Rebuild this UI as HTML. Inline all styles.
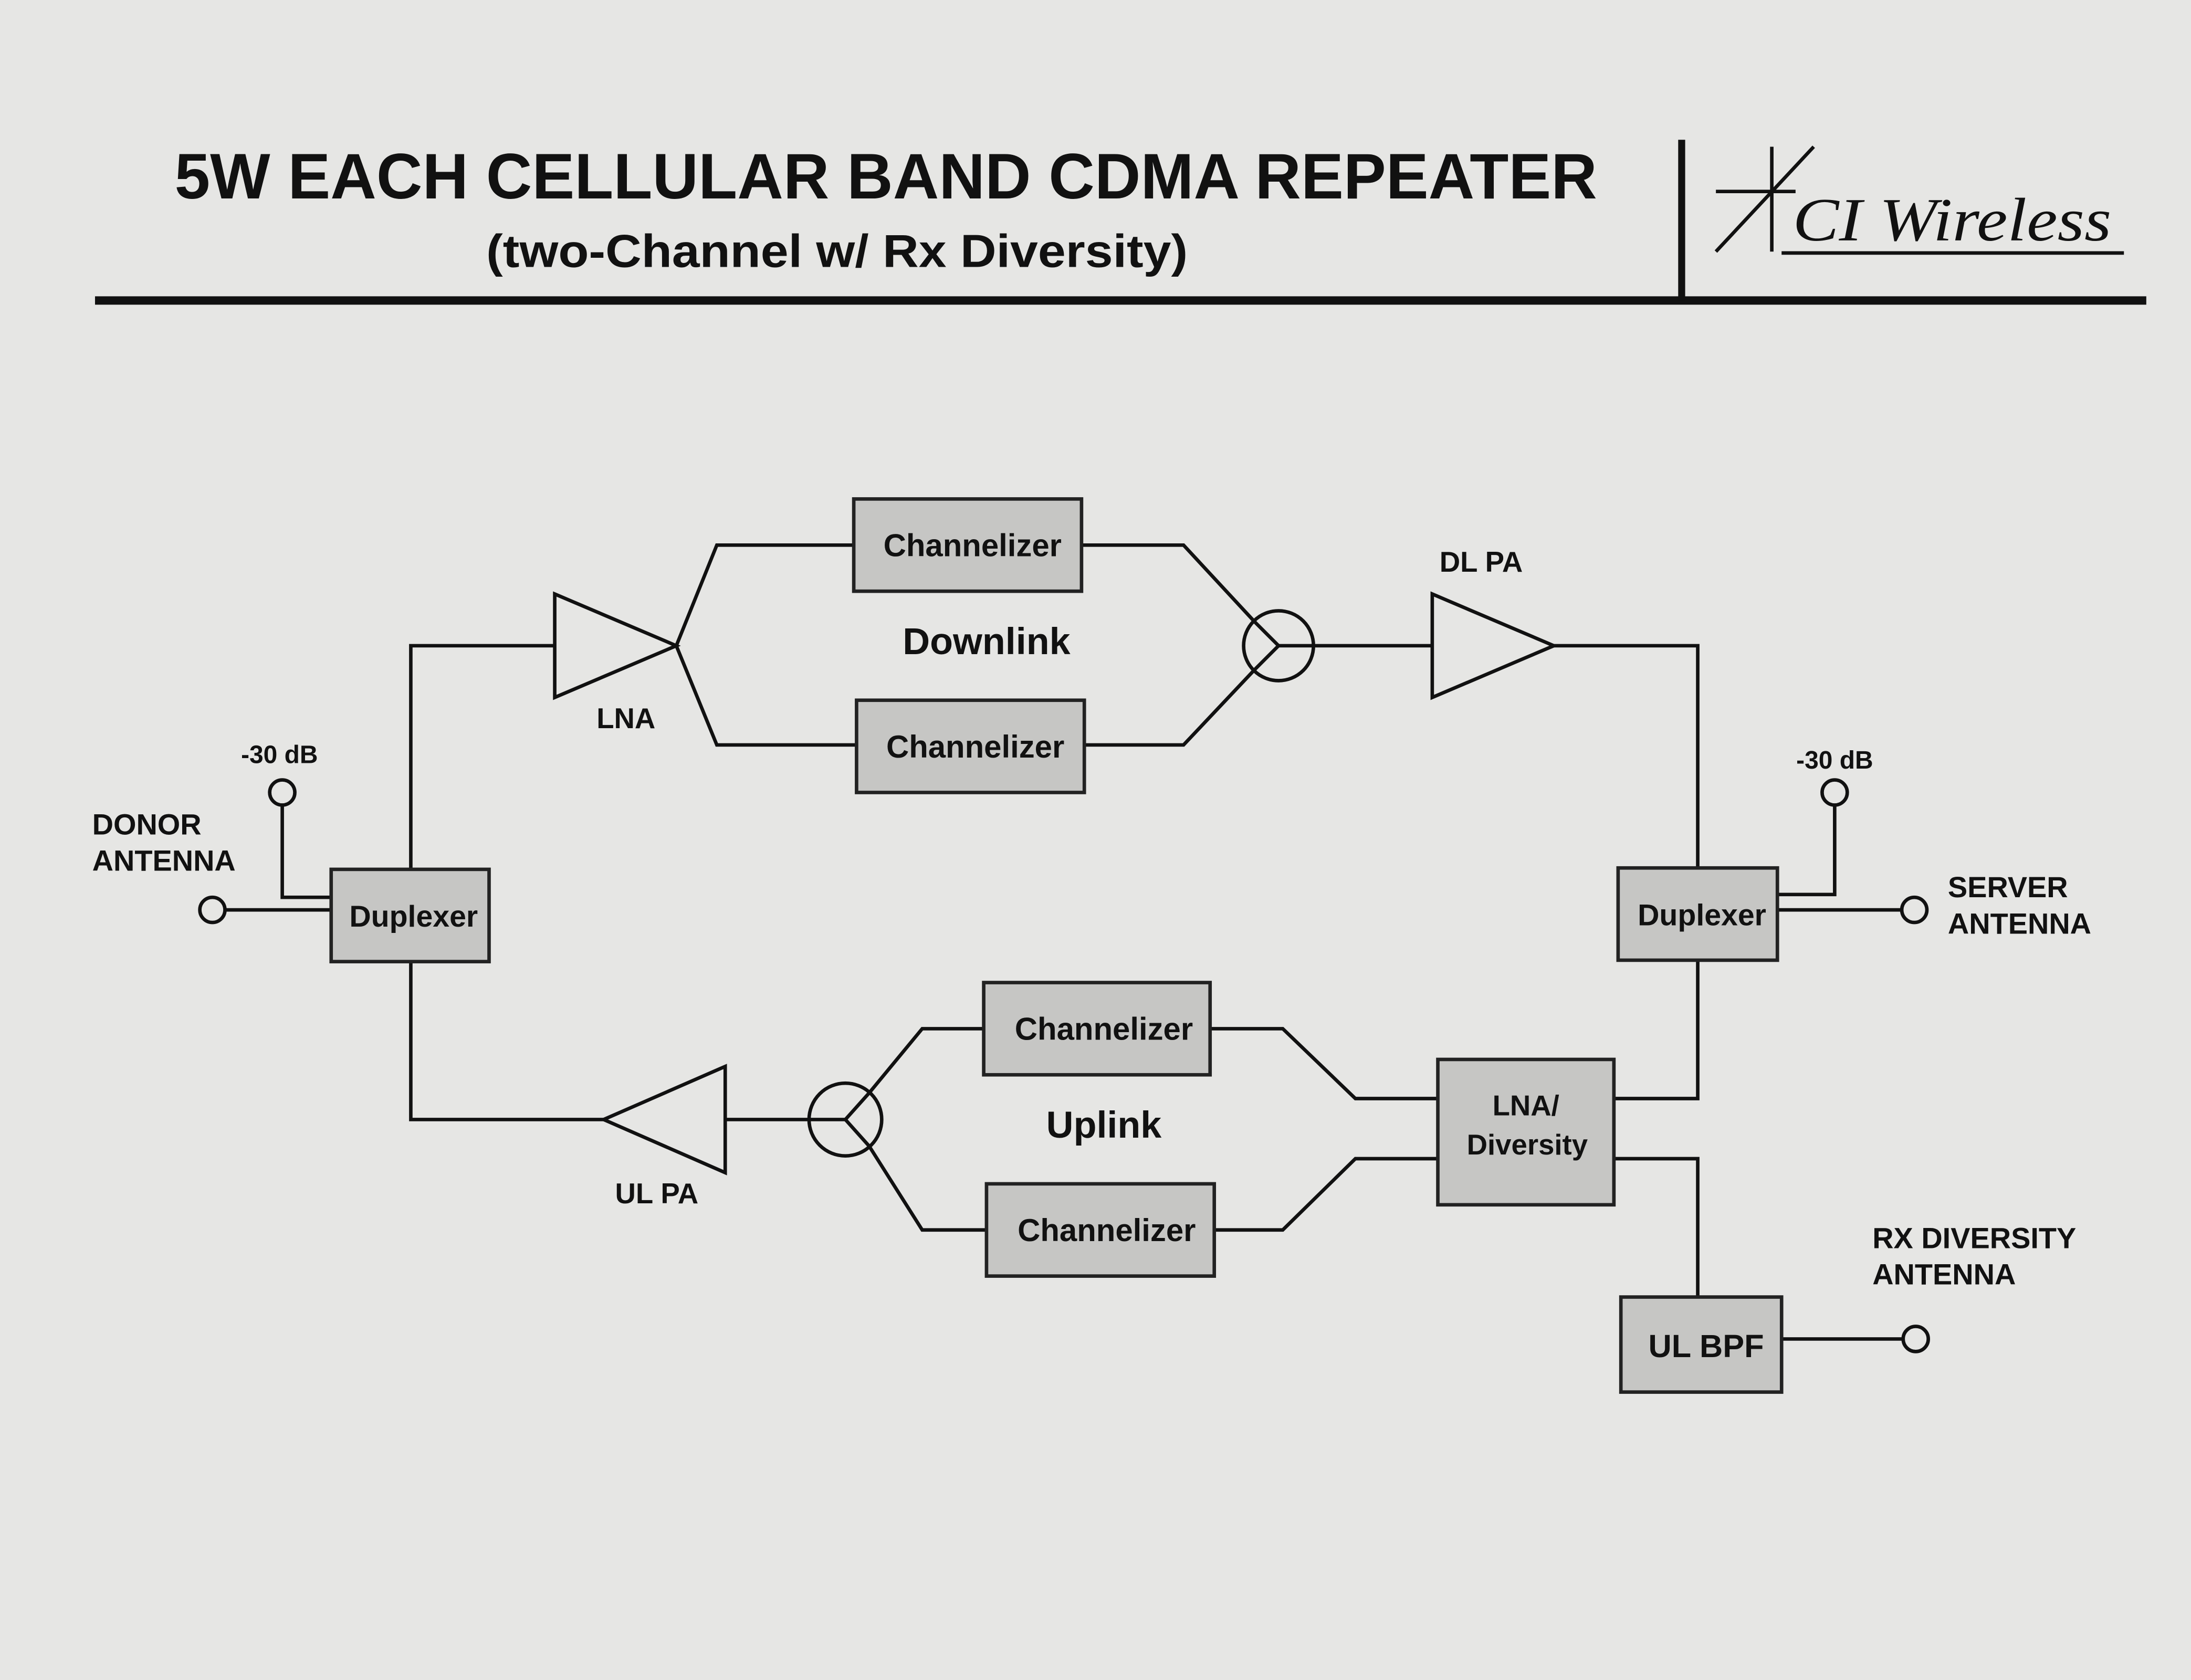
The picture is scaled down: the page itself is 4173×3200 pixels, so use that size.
<!DOCTYPE html>
<html><head><meta charset="utf-8"><style>
html,body{margin:0;padding:0;background:#e6e6e4;}
svg{display:block;}
text{font-family:"Liberation Sans",Arial,sans-serif;font-weight:bold;fill:#111;}
</style></head><body>
<svg width="4173" height="3200" viewBox="0 0 1568 1202" preserveAspectRatio="none" xmlns="http://www.w3.org/2000/svg">
<rect x="0" y="0" width="1568" height="1202" fill="#e6e6e4"/>
<!-- header -->
<text x="125" y="142" font-size="46" textLength="1018" lengthAdjust="spacingAndGlyphs">5W EACH CELLULAR BAND CDMA REPEATER</text>
<text x="348" y="191" font-size="33" textLength="502" lengthAdjust="spacingAndGlyphs">(two-Channel w/ Rx Diversity)</text>
<rect x="68" y="212" width="1468" height="6" fill="#111"/>
<rect x="1201" y="100" width="5" height="115" fill="#111"/>
<g stroke="#111" stroke-width="2.5" fill="none">
<line x1="1268" y1="105" x2="1268" y2="180"/>
<line x1="1228" y1="180" x2="1298" y2="105"/>
<line x1="1228" y1="137" x2="1285" y2="137"/>
<line x1="1275" y1="181" x2="1520" y2="181"/>
</g>
<text x="1283" y="172" font-size="44" style="font-family:'Liberation Serif',serif;font-style:italic;font-weight:normal" textLength="228" lengthAdjust="spacingAndGlyphs">CI Wireless</text>

<!-- connectors -->
<g stroke="#111" stroke-width="2.5" fill="none">
<line x1="161" y1="651" x2="237" y2="651"/>
<polyline points="202,576 202,642 237,642"/>
<polyline points="294,622 294,462 397,462"/>
<polyline points="611,390 513,390 484,462 513,533 613,533"/>
<polyline points="774,390 847,390 898,445"/>
<polyline points="776,533 847,533 898,479"/>
<line x1="940" y1="462" x2="1025" y2="462"/>
<polyline points="1112,462 1215,462 1215,621"/>
<polyline points="1313,576 1313,640 1272,640"/>
<line x1="1272" y1="651" x2="1361" y2="651"/>
<polyline points="1215,687 1215,786 1155,786"/>
<polyline points="1155,829 1215,829 1215,928"/>
<line x1="1275" y1="958" x2="1362" y2="958"/>
<polyline points="1029,786 970,786 918,736 866,736"/>
<polyline points="1029,829 970,829 918,880 869,880"/>
<polyline points="704,736 660,736 622,782"/>
<polyline points="706,880 660,880 622,820"/>
<line x1="579" y1="801" x2="519" y2="801"/>
<polyline points="432,801 294,801 294,688"/>
</g>
<!-- antenna circles -->
<g stroke="#111" stroke-width="2.5" fill="#e6e6e4">
<circle cx="152" cy="651" r="9"/>
<circle cx="202" cy="567" r="9"/>
<circle cx="1370" cy="651" r="9"/>
<circle cx="1313" cy="567" r="9"/>
<circle cx="1371" cy="958" r="9"/>
</g>
<!-- amplifiers -->
<g stroke="#111" stroke-width="2.5" fill="none">
<polygon points="397,425 397,499 484,462"/>
<polygon points="1025,425 1025,499 1112,462"/>
<polygon points="432,801 519,763 519,839"/>
<circle cx="915" cy="462" r="25"/>
<line x1="915" y1="462" x2="898" y2="445"/><line x1="915" y1="462" x2="898" y2="479"/><line x1="915" y1="462" x2="940" y2="462"/>
<circle cx="605" cy="801" r="26"/>
<line x1="605" y1="801" x2="622" y2="782"/><line x1="605" y1="801" x2="622" y2="820"/><line x1="605" y1="801" x2="579" y2="801"/>
</g>
<!-- boxes -->
<g stroke="#222" stroke-width="2.5" fill="#c6c6c4">
<rect x="237" y="622" width="113" height="66"/>
<rect x="611" y="357" width="163" height="66"/>
<rect x="613" y="501" width="163" height="66"/>
<rect x="1158" y="621" width="114" height="66"/>
<rect x="1029" y="758" width="126" height="104"/>
<rect x="1160" y="928" width="115" height="68"/>
<rect x="704" y="703" width="162" height="66"/>
<rect x="706" y="847" width="163" height="66"/>
</g>
<g font-size="22.5" text-anchor="middle">
<text x="296" y="663" font-size="21.5">Duplexer</text>
<text x="1218" y="662" font-size="21.5">Duplexer</text>
<text x="696" y="398">Channelizer</text>
<text x="698" y="542">Channelizer</text>
<text x="790" y="744">Channelizer</text>
<text x="792" y="888">Channelizer</text>
<text x="1092" y="798" font-size="20.5">LNA/</text>
<text x="1093" y="826" font-size="20.5">Diversity</text>
<text x="1221" y="971" font-size="23">UL BPF</text>
<text x="448" y="521" font-size="20.5">LNA</text>
<text x="1060" y="409" font-size="20.5">DL PA</text>
<text x="470" y="861" font-size="20.5">UL PA</text>
<text x="706" y="468" font-size="27">Downlink</text>
<text x="790" y="814" font-size="27">Uplink</text>
<text x="200" y="546" font-size="18">-30 dB</text>
<text x="1313" y="550" font-size="18">-30 dB</text>
</g>
<g font-size="21">
<text x="66" y="597">DONOR</text><text x="66" y="623">ANTENNA</text>
<text x="1394" y="642">SERVER</text><text x="1394" y="668">ANTENNA</text>
<text x="1340" y="893">RX DIVERSITY</text><text x="1340" y="919">ANTENNA</text>
</g>
</svg>
</body></html>
